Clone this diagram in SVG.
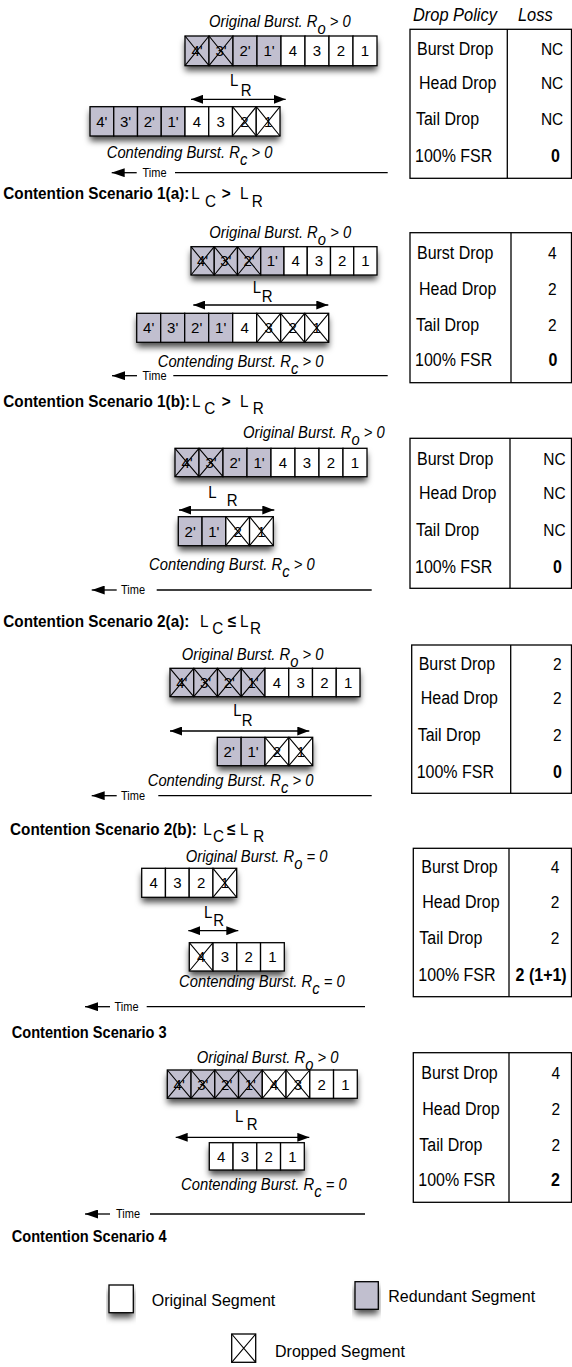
<svg xmlns="http://www.w3.org/2000/svg" width="572" height="1367" viewBox="0 0 572 1367">
  <style>
    text { font-family: "Liberation Sans", Arial, sans-serif; fill: #000; }
    .c { font-size: 15px; text-anchor: middle; }
    .it { font-size: 14.8px; font-style: italic; }
    .lr { font-size: 15px; }
    .tm { font-size: 11px; }
    .lb { font-size: 15.3px; font-weight: bold; }
    .rg { font-weight: normal; }
    .tb { font-size: 16px; }
    .tv { font-size: 15.5px; text-anchor: end; }
    .tvb { font-size: 16px; font-weight: bold; text-anchor: end; }
    .hd { font-size: 16.4px; font-style: italic; }
    .lg { font-size: 16px; }
    .w { fill: #fff; stroke: #000; stroke-width: 1.3; }
    .s { fill: #c1bfcf; stroke: #000; stroke-width: 1.3; }
    .x { fill: none; stroke: #000; stroke-width: 1.1; }
    .sh { fill: #fff; filter: url(#shadow); }
    .tbl { fill: #fff; stroke: #000; stroke-width: 1.3; }
    .ln { stroke: #000; stroke-width: 1.3; fill: none; }
  </style>
  <defs>
    <filter id="shadow" x="-10%" y="-40%" width="120%" height="220%">
      <feDropShadow dx="0" dy="5" stdDeviation="3" flood-color="#000" flood-opacity="0.7"/>
    </filter>
    <marker id="ah" viewBox="0 0 12 9" refX="12" refY="4.5" markerWidth="12" markerHeight="9" markerUnits="userSpaceOnUse" orient="auto-start-reverse">
      <path d="M0,0 L12,4.5 L0,9 z" fill="#000"/>
    </marker>
    <marker id="ta" viewBox="0 0 13 9" refX="13" refY="4.5" markerWidth="13" markerHeight="9" markerUnits="userSpaceOnUse" orient="auto-start-reverse">
      <path d="M0,0 L13,4.5 L0,9 z" fill="#000"/>
    </marker>
  </defs>

  <!-- ===== Scenario 1(a) ===== -->
  <g id="s1a-original">
    <text class="it" transform="translate(209 26.7) scale(1 1.1)">Original Burst. R<tspan dy="6.5">o</tspan><tspan dy="-6.5"> &gt; 0</tspan></text>
    <rect class="sh" x="185" y="36" width="192" height="29.7"/>
    <rect class="s" x="185" y="36" width="24" height="29.7"/><text class="c" x="197" y="56.2">4'</text><path class="x" d="M185 36L209 65.7M209 36L185 65.7"/>
    <rect class="s" x="209" y="36" width="24" height="29.7"/><text class="c" x="221" y="56.2">3'</text><path class="x" d="M209 36L233 65.7M233 36L209 65.7"/>
    <rect class="s" x="233" y="36" width="24" height="29.7"/><text class="c" x="245" y="56.2">2'</text>
    <rect class="s" x="257" y="36" width="24" height="29.7"/><text class="c" x="269" y="56.2">1'</text>
    <rect class="w" x="281" y="36" width="24" height="29.7"/><text class="c" x="293" y="56.2">4</text>
    <rect class="w" x="305" y="36" width="24" height="29.7"/><text class="c" x="317" y="56.2">3</text>
    <rect class="w" x="329" y="36" width="24" height="29.7"/><text class="c" x="341" y="56.2">2</text>
    <rect class="w" x="353" y="36" width="24" height="29.7"/><text class="c" x="365" y="56.2">1</text>
  </g>
  <g id="s1a-contending">
    <rect class="sh" x="90" y="106.7" width="190" height="29.3"/>
    <rect class="s" x="90" y="106.7" width="23.75" height="29.3"/><text class="c" x="101.9" y="126.7">4'</text>
    <rect class="s" x="113.75" y="106.7" width="23.75" height="29.3"/><text class="c" x="125.6" y="126.7">3'</text>
    <rect class="s" x="137.5" y="106.7" width="23.75" height="29.3"/><text class="c" x="149.4" y="126.7">2'</text>
    <rect class="s" x="161.25" y="106.7" width="23.75" height="29.3"/><text class="c" x="173.1" y="126.7">1'</text>
    <rect class="w" x="185" y="106.7" width="23.75" height="29.3"/><text class="c" x="196.9" y="126.7">4</text>
    <rect class="w" x="208.75" y="106.7" width="23.75" height="29.3"/><text class="c" x="220.6" y="126.7">3</text>
    <rect class="w" x="232.5" y="106.7" width="23.75" height="29.3"/><text class="c" x="244.4" y="126.7">2</text><path class="x" d="M232.5 106.7L256.25 136M256.25 106.7L232.5 136"/>
    <rect class="w" x="256.25" y="106.7" width="23.75" height="29.3"/><text class="c" x="268.1" y="126.7">1</text><path class="x" d="M256.25 106.7L280 136M280 106.7L256.25 136"/>
    <text class="it" transform="translate(106.7 158.3) scale(1 1.1)">Contending Burst. R<tspan dy="6.5">c</tspan><tspan dy="-6.5"> &gt; 0</tspan></text>
  </g>
  <g id="s1a-table">
    <text class="hd" transform="translate(413 21) scale(1 1.12)">Drop Policy</text>
    <text class="hd" transform="translate(518 21) scale(1 1.12)">Loss</text>
    <rect class="tbl" x="410" y="29.3" width="161.5" height="149"/>
    <line class="ln" x1="507.3" y1="29.3" x2="507.3" y2="178.3"/>
    <text class="tb" transform="translate(417 55) scale(1 1.1)">Burst Drop</text>
    <text class="tb" transform="translate(419 89.3) scale(1 1.1)">Head Drop</text>
    <text class="tb" transform="translate(416 125) scale(1 1.1)">Tail Drop</text>
    <text class="tb" transform="translate(415 161.7) scale(1 1.1)">100% FSR</text>
    <text class="tv" transform="translate(563.3 55) scale(1 1.1)">NC</text>
    <text class="tv" transform="translate(563.3 89.3) scale(1 1.1)">NC</text>
    <text class="tv" transform="translate(563.3 125) scale(1 1.1)">NC</text>
    <text class="tvb" transform="translate(560 161.7) scale(1 1.1)">0</text>
  </g>

  <!-- ===== Scenario 1(b) ===== -->
  <g id="s1b-original">
    <text class="it" transform="translate(209.3 238.3) scale(1 1.1)">Original Burst. R<tspan dy="6.5">o</tspan><tspan dy="-6.5"> &gt; 0</tspan></text>
    <rect class="sh" x="191" y="246.7" width="186" height="28.3"/>
    <rect class="s" x="191" y="246.7" width="23.25" height="28.3"/><text class="c" x="202.6" y="266.2">4'</text><path class="x" d="M191 246.7L214.25 275M214.25 246.7L191 275"/>
    <rect class="s" x="214.25" y="246.7" width="23.25" height="28.3"/><text class="c" x="225.9" y="266.2">3'</text><path class="x" d="M214.25 246.7L237.5 275M237.5 246.7L214.25 275"/>
    <rect class="s" x="237.5" y="246.7" width="23.25" height="28.3"/><text class="c" x="249.1" y="266.2">2'</text><path class="x" d="M237.5 246.7L260.75 275M260.75 246.7L237.5 275"/>
    <rect class="s" x="260.75" y="246.7" width="23.25" height="28.3"/><text class="c" x="272.4" y="266.2">1'</text>
    <rect class="w" x="284" y="246.7" width="23.25" height="28.3"/><text class="c" x="295.6" y="266.2">4</text>
    <rect class="w" x="307.25" y="246.7" width="23.25" height="28.3"/><text class="c" x="318.9" y="266.2">3</text>
    <rect class="w" x="330.5" y="246.7" width="23.25" height="28.3"/><text class="c" x="342.1" y="266.2">2</text>
    <rect class="w" x="353.75" y="246.7" width="23.25" height="28.3"/><text class="c" x="365.4" y="266.2">1</text>
  </g>
  <g id="s1b-contending">
    <rect class="sh" x="136.7" y="313.3" width="192" height="29"/>
    <rect class="s" x="136.7" y="313.3" width="24" height="29"/><text class="c" x="148.7" y="333.1">4'</text>
    <rect class="s" x="160.7" y="313.3" width="24" height="29"/><text class="c" x="172.7" y="333.1">3'</text>
    <rect class="s" x="184.7" y="313.3" width="24" height="29"/><text class="c" x="196.7" y="333.1">2'</text>
    <rect class="s" x="208.7" y="313.3" width="24" height="29"/><text class="c" x="220.7" y="333.1">1'</text>
    <rect class="w" x="232.7" y="313.3" width="24" height="29"/><text class="c" x="244.7" y="333.1">4</text>
    <rect class="w" x="256.7" y="313.3" width="24" height="29"/><text class="c" x="268.7" y="333.1">3</text><path class="x" d="M256.7 313.3L280.7 342.3M280.7 313.3L256.7 342.3"/>
    <rect class="w" x="280.7" y="313.3" width="24" height="29"/><text class="c" x="292.7" y="333.1">2</text><path class="x" d="M280.7 313.3L304.7 342.3M304.7 313.3L280.7 342.3"/>
    <rect class="w" x="304.7" y="313.3" width="24" height="29"/><text class="c" x="316.7" y="333.1">1</text><path class="x" d="M304.7 313.3L328.7 342.3M328.7 313.3L304.7 342.3"/>
    <text class="it" transform="translate(157.7 366.7) scale(1 1.1)">Contending Burst. R<tspan dy="6.5">c</tspan><tspan dy="-6.5"> &gt; 0</tspan></text>
  </g>
  <g id="s1b-table">
    <rect class="tbl" x="410" y="232.7" width="161.5" height="150"/>
    <line class="ln" x1="511" y1="232.7" x2="511" y2="382.7"/>
    <text class="tb" transform="translate(417 259.2) scale(1 1.1)">Burst Drop</text>
    <text class="tb" transform="translate(419 294.8) scale(1 1.1)">Head Drop</text>
    <text class="tb" transform="translate(416 330.5) scale(1 1.1)">Tail Drop</text>
    <text class="tb" transform="translate(415 365.5) scale(1 1.1)">100% FSR</text>
    <text class="tv" transform="translate(556.7 259.2) scale(1 1.1)">4</text>
    <text class="tv" transform="translate(556.7 294.8) scale(1 1.1)">2</text>
    <text class="tv" transform="translate(556.7 330.5) scale(1 1.1)">2</text>
    <text class="tvb" transform="translate(557.5 365.5) scale(1 1.1)">0</text>
  </g>

  <!-- ===== Scenario 2(a) ===== -->
  <g id="s2a-original">
    <text class="it" transform="translate(243 438) scale(1 1.1)">Original Burst. R<tspan dy="6.5">o</tspan><tspan dy="-6.5"> &gt; 0</tspan></text>
    <rect class="sh" x="175" y="448.3" width="192" height="28.4"/>
    <rect class="s" x="175" y="448.3" width="24" height="28.4"/><text class="c" x="187" y="467.8">4'</text><path class="x" d="M175 448.3L199 476.7M199 448.3L175 476.7"/>
    <rect class="s" x="199" y="448.3" width="24" height="28.4"/><text class="c" x="211" y="467.8">3'</text><path class="x" d="M199 448.3L223 476.7M223 448.3L199 476.7"/>
    <rect class="s" x="223" y="448.3" width="24" height="28.4"/><text class="c" x="235" y="467.8">2'</text>
    <rect class="s" x="247" y="448.3" width="24" height="28.4"/><text class="c" x="259" y="467.8">1'</text>
    <rect class="w" x="271" y="448.3" width="24" height="28.4"/><text class="c" x="283" y="467.8">4</text>
    <rect class="w" x="295" y="448.3" width="24" height="28.4"/><text class="c" x="307" y="467.8">3</text>
    <rect class="w" x="319" y="448.3" width="24" height="28.4"/><text class="c" x="331" y="467.8">2</text>
    <rect class="w" x="343" y="448.3" width="24" height="28.4"/><text class="c" x="355" y="467.8">1</text>
  </g>
  <g id="s2a-contending">
    <rect class="sh" x="178.3" y="516.7" width="95" height="29"/>
    <rect class="s" x="178.3" y="516.7" width="23.75" height="29"/><text class="c" x="190.2" y="536.5">2'</text>
    <rect class="s" x="202.05" y="516.7" width="23.75" height="29"/><text class="c" x="213.9" y="536.5">1'</text>
    <rect class="w" x="225.8" y="516.7" width="23.75" height="29"/><text class="c" x="237.7" y="536.5">2</text><path class="x" d="M225.8 516.7L249.55 545.7M249.55 516.7L225.8 545.7"/>
    <rect class="w" x="249.55" y="516.7" width="23.75" height="29"/><text class="c" x="261.4" y="536.5">1</text><path class="x" d="M249.55 516.7L273.3 545.7M273.3 516.7L249.55 545.7"/>
    <text class="it" transform="translate(149 570) scale(1 1.1)">Contending Burst. R<tspan dy="6.5">c</tspan><tspan dy="-6.5"> &gt; 0</tspan></text>
  </g>
  <g id="s2a-table">
    <rect class="tbl" x="410" y="438.3" width="161.5" height="150"/>
    <line class="ln" x1="510" y1="438.3" x2="510" y2="588.3"/>
    <text class="tb" transform="translate(417 464.8) scale(1 1.1)">Burst Drop</text>
    <text class="tb" transform="translate(419 499.2) scale(1 1.1)">Head Drop</text>
    <text class="tb" transform="translate(416 535.8) scale(1 1.1)">Tail Drop</text>
    <text class="tb" transform="translate(415 572.5) scale(1 1.1)">100% FSR</text>
    <text class="tv" transform="translate(565.7 464.8) scale(1 1.1)">NC</text>
    <text class="tv" transform="translate(565.7 499.2) scale(1 1.1)">NC</text>
    <text class="tv" transform="translate(565.7 535.8) scale(1 1.1)">NC</text>
    <text class="tvb" transform="translate(562 572.5) scale(1 1.1)">0</text>
  </g>

  <!-- ===== Scenario 2(b) ===== -->
  <g id="s2b-original">
    <text class="it" transform="translate(181.7 660) scale(1 1.1)">Original Burst. R<tspan dy="6.5">o</tspan><tspan dy="-6.5"> &gt; 0</tspan></text>
    <rect class="sh" x="170" y="668.3" width="190" height="28.4"/>
    <rect class="s" x="170" y="668.3" width="23.75" height="28.4"/><text class="c" x="181.9" y="687.8">4'</text><path class="x" d="M170 668.3L193.75 696.7M193.75 668.3L170 696.7"/>
    <rect class="s" x="193.75" y="668.3" width="23.75" height="28.4"/><text class="c" x="205.6" y="687.8">3'</text><path class="x" d="M193.75 668.3L217.5 696.7M217.5 668.3L193.75 696.7"/>
    <rect class="s" x="217.5" y="668.3" width="23.75" height="28.4"/><text class="c" x="229.4" y="687.8">2'</text><path class="x" d="M217.5 668.3L241.25 696.7M241.25 668.3L217.5 696.7"/>
    <rect class="s" x="241.25" y="668.3" width="23.75" height="28.4"/><text class="c" x="253.1" y="687.8">1'</text><path class="x" d="M241.25 668.3L265 696.7M265 668.3L241.25 696.7"/>
    <rect class="w" x="265" y="668.3" width="23.75" height="28.4"/><text class="c" x="276.9" y="687.8">4</text>
    <rect class="w" x="288.75" y="668.3" width="23.75" height="28.4"/><text class="c" x="300.6" y="687.8">3</text>
    <rect class="w" x="312.5" y="668.3" width="23.75" height="28.4"/><text class="c" x="324.4" y="687.8">2</text>
    <rect class="w" x="336.25" y="668.3" width="23.75" height="28.4"/><text class="c" x="348.1" y="687.8">1</text>
  </g>
  <g id="s2b-contending">
    <rect class="sh" x="217.3" y="737.3" width="95.4" height="28.4"/>
    <rect class="s" x="217.3" y="737.3" width="23.85" height="28.4"/><text class="c" x="229.2" y="756.8">2'</text>
    <rect class="s" x="241.15" y="737.3" width="23.85" height="28.4"/><text class="c" x="253.1" y="756.8">1'</text>
    <rect class="w" x="265" y="737.3" width="23.85" height="28.4"/><text class="c" x="276.9" y="756.8">2</text><path class="x" d="M265 737.3L288.85 765.7M288.85 737.3L265 765.7"/>
    <rect class="w" x="288.85" y="737.3" width="23.85" height="28.4"/><text class="c" x="300.8" y="756.8">1</text><path class="x" d="M288.85 737.3L312.7 765.7M312.7 737.3L288.85 765.7"/>
    <text class="it" transform="translate(147.7 786) scale(1 1.1)">Contending Burst. R<tspan dy="6.5">c</tspan><tspan dy="-6.5"> &gt; 0</tspan></text>
  </g>
  <g id="s2b-table">
    <rect class="tbl" x="411.7" y="645" width="159.8" height="148.3"/>
    <line class="ln" x1="510.7" y1="645" x2="510.7" y2="793.3"/>
    <text class="tb" transform="translate(418.7 669.8) scale(1 1.1)">Burst Drop</text>
    <text class="tb" transform="translate(420.7 704.2) scale(1 1.1)">Head Drop</text>
    <text class="tb" transform="translate(417.7 740.5) scale(1 1.1)">Tail Drop</text>
    <text class="tb" transform="translate(416.7 777.5) scale(1 1.1)">100% FSR</text>
    <text class="tv" transform="translate(561.7 669.8) scale(1 1.1)">2</text>
    <text class="tv" transform="translate(561.7 704.2) scale(1 1.1)">2</text>
    <text class="tv" transform="translate(561.7 740.5) scale(1 1.1)">2</text>
    <text class="tvb" transform="translate(562 777.5) scale(1 1.1)">0</text>
  </g>

  <!-- ===== Scenario 3 ===== -->
  <g id="s3-original">
    <text class="it" transform="translate(185.7 861.7) scale(1 1.1)">Original Burst. R<tspan dy="6.5">o</tspan><tspan dy="-6.5"> = 0</tspan></text>
    <rect class="sh" x="141.7" y="868.3" width="95" height="29"/>
    <rect class="w" x="141.7" y="868.3" width="23.75" height="29"/><text class="c" x="153.6" y="888.1">4</text>
    <rect class="w" x="165.45" y="868.3" width="23.75" height="29"/><text class="c" x="177.3" y="888.1">3</text>
    <rect class="w" x="189.2" y="868.3" width="23.75" height="29"/><text class="c" x="201.1" y="888.1">2</text>
    <rect class="w" x="212.95" y="868.3" width="23.75" height="29"/><text class="c" x="224.8" y="888.1">1</text><path class="x" d="M212.95 868.3L236.7 897.3M236.7 868.3L212.95 897.3"/>
  </g>
  <g id="s3-contending">
    <rect class="sh" x="189.3" y="942.7" width="95" height="28.3"/>
    <rect class="w" x="189.3" y="942.7" width="23.75" height="28.3"/><text class="c" x="201.2" y="962.2">4</text><path class="x" d="M189.3 942.7L213.05 971M213.05 942.7L189.3 971"/>
    <rect class="w" x="213.05" y="942.7" width="23.75" height="28.3"/><text class="c" x="224.9" y="962.2">3</text>
    <rect class="w" x="236.8" y="942.7" width="23.75" height="28.3"/><text class="c" x="248.7" y="962.2">2</text>
    <rect class="w" x="260.55" y="942.7" width="23.75" height="28.3"/><text class="c" x="272.4" y="962.2">1</text>
    <text class="it" transform="translate(179 986.7) scale(1 1.1)">Contending Burst. R<tspan dy="6.5">c</tspan><tspan dy="-6.5"> = 0</tspan></text>
  </g>
  <g id="s3-table">
    <rect class="tbl" x="413.3" y="848.3" width="158.2" height="148.4"/>
    <line class="ln" x1="509" y1="848.3" x2="509" y2="996.7"/>
    <text class="tb" transform="translate(421.3 872.5) scale(1 1.1)">Burst Drop</text>
    <text class="tb" transform="translate(422.3 908.2) scale(1 1.1)">Head Drop</text>
    <text class="tb" transform="translate(419.3 943.8) scale(1 1.1)">Tail Drop</text>
    <text class="tb" transform="translate(418.3 980.5) scale(1 1.1)">100% FSR</text>
    <text class="tv" transform="translate(559.3 872.5) scale(1 1.1)">4</text>
    <text class="tv" transform="translate(559.3 908.2) scale(1 1.1)">2</text>
    <text class="tv" transform="translate(559.3 943.8) scale(1 1.1)">2</text>
    <text class="tvb" transform="translate(566.7 980.5) scale(1 1.1)">2 (1+1)</text>
  </g>

  <!-- ===== Scenario 4 ===== -->
  <g id="s4-original">
    <text class="it" transform="translate(196.7 1062.7) scale(1 1.1)">Original Burst. R<tspan dy="6.5">o</tspan><tspan dy="-6.5"> &gt; 0</tspan></text>
    <rect class="sh" x="167.3" y="1070" width="190" height="28.3"/>
    <rect class="s" x="167.3" y="1070" width="23.75" height="28.3"/><text class="c" x="179.2" y="1089.5">4'</text><path class="x" d="M167.3 1070L191.05 1098.3M191.05 1070L167.3 1098.3"/>
    <rect class="s" x="191.05" y="1070" width="23.75" height="28.3"/><text class="c" x="202.9" y="1089.5">3'</text><path class="x" d="M191.05 1070L214.8 1098.3M214.8 1070L191.05 1098.3"/>
    <rect class="s" x="214.8" y="1070" width="23.75" height="28.3"/><text class="c" x="226.7" y="1089.5">2'</text><path class="x" d="M214.8 1070L238.55 1098.3M238.55 1070L214.8 1098.3"/>
    <rect class="s" x="238.55" y="1070" width="23.75" height="28.3"/><text class="c" x="250.4" y="1089.5">1'</text><path class="x" d="M238.55 1070L262.3 1098.3M262.3 1070L238.55 1098.3"/>
    <rect class="w" x="262.3" y="1070" width="23.75" height="28.3"/><text class="c" x="274.2" y="1089.5">4</text><path class="x" d="M262.3 1070L286.05 1098.3M286.05 1070L262.3 1098.3"/>
    <rect class="w" x="286.05" y="1070" width="23.75" height="28.3"/><text class="c" x="297.9" y="1089.5">3</text><path class="x" d="M286.05 1070L309.8 1098.3M309.8 1070L286.05 1098.3"/>
    <rect class="w" x="309.8" y="1070" width="23.75" height="28.3"/><text class="c" x="321.7" y="1089.5">2</text>
    <rect class="w" x="333.55" y="1070" width="23.75" height="28.3"/><text class="c" x="345.4" y="1089.5">1</text>
  </g>
  <g id="s4-contending">
    <rect class="sh" x="209.3" y="1142.7" width="95" height="27.3"/>
    <rect class="w" x="209.3" y="1142.7" width="23.75" height="27.3"/><text class="c" x="221.2" y="1161.7">4</text>
    <rect class="w" x="233.05" y="1142.7" width="23.75" height="27.3"/><text class="c" x="244.9" y="1161.7">3</text>
    <rect class="w" x="256.8" y="1142.7" width="23.75" height="27.3"/><text class="c" x="268.7" y="1161.7">2</text>
    <rect class="w" x="280.55" y="1142.7" width="23.75" height="27.3"/><text class="c" x="292.4" y="1161.7">1</text>
    <text class="it" transform="translate(181 1190) scale(1 1.1)">Contending Burst. R<tspan dy="6.5">c</tspan><tspan dy="-6.5"> = 0</tspan></text>
  </g>
  <g id="s4-table">
    <rect class="tbl" x="413.3" y="1052.7" width="158.2" height="149.6"/>
    <line class="ln" x1="509" y1="1052.7" x2="509" y2="1202.3"/>
    <text class="tb" transform="translate(421.3 1079.2) scale(1 1.1)">Burst Drop</text>
    <text class="tb" transform="translate(422.3 1114.8) scale(1 1.1)">Head Drop</text>
    <text class="tb" transform="translate(419.3 1150.5) scale(1 1.1)">Tail Drop</text>
    <text class="tb" transform="translate(418.3 1185.5) scale(1 1.1)">100% FSR</text>
    <text class="tv" transform="translate(560 1079.2) scale(1 1.1)">4</text>
    <text class="tv" transform="translate(560 1114.8) scale(1 1.1)">2</text>
    <text class="tv" transform="translate(560 1150.5) scale(1 1.1)">2</text>
    <text class="tvb" transform="translate(560 1185.5) scale(1 1.1)">2</text>
  </g>

  <!-- L_R spans, time axes and scenario captions -->
  <g id="annotations">
    <text class="lr" transform="translate(230 86) scale(1 1.1)">L<tspan x="10.7" y="8.8">R</tspan></text>
    <text class="lr" transform="translate(252.7 292.5) scale(1 1.1)">L<tspan x="9" y="8.2">R</tspan></text>
    <text class="lr" transform="translate(208.3 498) scale(1 1.1)">L<tspan x="18.4" y="7.7">R</tspan></text>
    <text class="lr" transform="translate(233.3 716) scale(1 1.1)">L<tspan x="8.4" y="9">R</tspan></text>
    <text class="lr" transform="translate(204 918) scale(1 1.1)">L<tspan x="9.3" y="7.3">R</tspan></text>
    <text class="lr" transform="translate(235 1122) scale(1 1.1)">L<tspan x="11.7" y="7.3">R</tspan></text>

    <text class="tm" transform="translate(142.5 177) scale(1 1.1)">Time</text>
    <text class="tm" transform="translate(142.5 380) scale(1 1.1)">Time</text>
    <text class="tm" transform="translate(121 594.3) scale(1 1.1)">Time</text>
    <text class="tm" transform="translate(121 800) scale(1 1.1)">Time</text>
    <text class="tm" transform="translate(114.5 1011) scale(1 1.1)">Time</text>
    <text class="tm" transform="translate(116 1218.3) scale(1 1.1)">Time</text>

    <text class="lb" transform="translate(3.3 199.3) scale(1 1.12)">Contention Scenario 1(a):<tspan class="rg" x="188">L</tspan><tspan class="rg" x="201.7" y="6.5">C</tspan><tspan x="218.4" y="0">&gt;</tspan><tspan class="rg" x="236.7">L</tspan><tspan class="rg" x="248.4" y="6.5">R</tspan></text>
    <text class="lb" transform="translate(3.3 406.7) scale(1 1.12)">Contention Scenario 1(b):<tspan class="rg" x="188.6">L</tspan><tspan class="rg" x="201" y="6.5">C</tspan><tspan x="218.4" y="0">&gt;</tspan><tspan class="rg" x="236.7">L</tspan><tspan class="rg" x="249.4" y="6.5">R</tspan></text>
    <text class="lb" transform="translate(3.3 626.7) scale(1 1.12)">Contention Scenario 2(a):<tspan class="rg" x="196.7">L</tspan><tspan class="rg" x="209" y="6.5">C</tspan><tspan x="224.5" y="0">≤</tspan><tspan class="rg" x="236.7">L</tspan><tspan class="rg" x="246.7" y="6.5">R</tspan></text>
    <text class="lb" transform="translate(10 835) scale(1 1.12)">Contention Scenario 2(b):<tspan class="rg" x="193.3">L</tspan><tspan class="rg" x="203" y="6.5">C</tspan><tspan x="217" y="0">≤</tspan><tspan class="rg" x="230">L</tspan><tspan class="rg" x="243.3" y="6.5">R</tspan></text>
    <text class="lb" transform="translate(11.7 1038.3) scale(1 1.12)" style="font-size:14.6px">Contention Scenario 3</text>
    <text class="lb" transform="translate(11.7 1242) scale(1 1.12)" style="font-size:14.6px">Contention Scenario 4</text>
  </g>

  <g id="connectors">
    <!-- L_R double arrows -->
    <line class="ln" x1="191" y1="99.3" x2="285.7" y2="99.3" marker-start="url(#ah)" marker-end="url(#ah)"/>
    <line class="ln" x1="193.3" y1="305" x2="328.3" y2="305" marker-start="url(#ah)" marker-end="url(#ah)"/>
    <line class="ln" x1="179" y1="510" x2="274.3" y2="510" marker-start="url(#ah)" marker-end="url(#ah)"/>
    <line class="ln" x1="170" y1="731" x2="309.3" y2="731" marker-start="url(#ah)" marker-end="url(#ah)"/>
    <line class="ln" x1="188.3" y1="930.7" x2="238.3" y2="930.7" marker-start="url(#ah)" marker-end="url(#ah)"/>
    <line class="ln" x1="175.7" y1="1137.3" x2="309.3" y2="1137.3" marker-start="url(#ah)" marker-end="url(#ah)"/>
    <!-- time axes -->
    <line class="ln" x1="111.7" y1="172.7" x2="136.7" y2="172.7" marker-start="url(#ta)"/>
    <line class="ln" x1="175" y1="172.7" x2="387.7" y2="172.7"/>
    <line class="ln" x1="112" y1="375.7" x2="137" y2="375.7" marker-start="url(#ta)"/>
    <line class="ln" x1="173.3" y1="375.7" x2="387.7" y2="375.7"/>
    <line class="ln" x1="91.7" y1="590" x2="116.7" y2="590" marker-start="url(#ta)"/>
    <line class="ln" x1="156.7" y1="590" x2="371.7" y2="590"/>
    <line class="ln" x1="91.7" y1="795.7" x2="116.7" y2="795.7" marker-start="url(#ta)"/>
    <line class="ln" x1="158.3" y1="795.7" x2="371.7" y2="795.7"/>
    <line class="ln" x1="85" y1="1006.7" x2="110" y2="1006.7" marker-start="url(#ta)"/>
    <line class="ln" x1="146.7" y1="1006.7" x2="365" y2="1006.7"/>
    <line class="ln" x1="85" y1="1214" x2="110" y2="1214" marker-start="url(#ta)"/>
    <line class="ln" x1="150" y1="1214" x2="365" y2="1214"/>
  </g>

  <!-- legend -->
  <g id="legend-original">
    <rect class="sh" x="109" y="1285" width="24.3" height="27.7"/>
    <rect class="w" x="109" y="1285" width="24.3" height="27.7"/>
    <text class="lg" x="151.7" y="1306">Original Segment</text>
  </g>
  <g id="legend-redundant">
    <rect class="sh" x="355" y="1281.7" width="23.3" height="27.6"/>
    <rect class="s" x="355" y="1281.7" width="23.3" height="27.6"/>
    <text class="lg" x="388.3" y="1301.7">Redundant Segment</text>
  </g>
  <g id="legend-dropped">
    <rect class="w" x="231.7" y="1334" width="24" height="28.3"/>
    <path class="x" d="M231.7 1334L255.7 1362.3M255.7 1334L231.7 1362.3"/>
    <text class="lg" x="275" y="1357.3">Dropped Segment</text>
  </g>
</svg>
